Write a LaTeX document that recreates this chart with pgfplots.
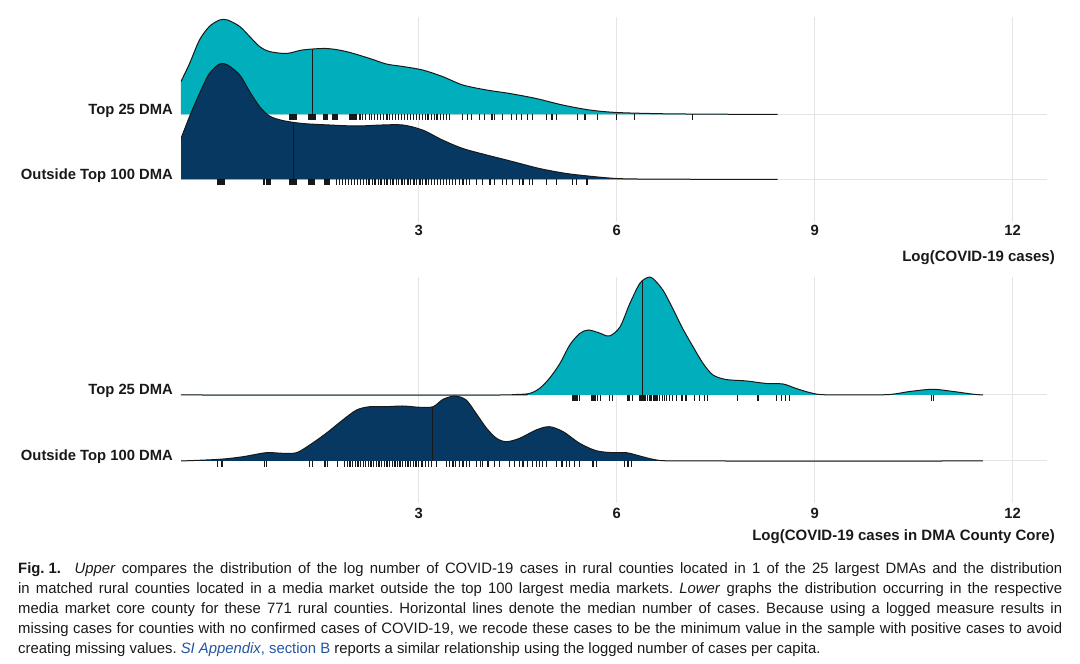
\documentclass[border=0pt]{standalone}
\usepackage{pgfplots}
\pgfplotsset{compat=1.18}
\usepackage{pgfplotstable}
\usepackage{fontspec}
\setmainfont{Liberation Sans}
\newfontfamily\capfont[FakeStretch=0.99]{Liberation Sans}
\definecolor{teal1}{RGB}{0,175,187}
\definecolor{navy1}{RGB}{6,56,98}
\definecolor{outl}{RGB}{25,25,25}
\definecolor{gridc}{RGB}{228,228,228}
\definecolor{capblue}{RGB}{35,85,165}

% ridge heights above each ridge's own baseline
% upper panel
\pgfplotstableread{
x y
-0.6 33
-0.47 51
-0.32 74.5
-0.17 88
-0.015 94.5
0.106 94.5
0.29 88
0.44 78
0.59 68
0.74 63
1.0 61
1.24 64.5
1.60 66
1.90 63
2.26 56
2.51 50.5
2.76 48
3.06 44.5
3.36 38
3.67 29.5
4.03 24.5
4.38 21
4.78 16
5.18 9.5
5.59 4.5
6.0 2
6.65 0.8
7.26 0.4
8.44 0
}\upA
\pgfplotstableread{
x y
-0.6 41
-0.47 63
-0.32 86
-0.17 106
-0.015 115.5
0.106 114.5
0.29 104.5
0.44 88
0.59 73
0.74 63.5
0.94 59
1.24 56
1.65 54.5
2.06 53.5
2.45 54.5
2.76 54.5
3.06 49.5
3.36 39.5
3.67 31
4.03 24.5
4.42 18
4.83 11
5.24 6
5.64 3
6.0 1
6.5 0.4
8.44 0
}\upB
% lower panel
\pgfplotstableread{
x y
-0.6 0
4.3 0
4.48 0.5
4.68 1.5
4.83 6.5
4.98 16.5
5.14 31.5
5.29 50
5.44 61.5
5.57 65
5.74 62
5.89 59
6.05 68
6.20 91.5
6.35 111.5
6.47 117.5
6.55 116.5
6.70 105
6.85 86.5
7.00 66.5
7.16 48
7.31 31.5
7.46 20
7.66 15.5
7.97 14
8.27 11.5
8.52 11
8.72 6.5
8.92 2.5
9.12 0.3
9.7 0.1
10.14 0.5
10.44 3.5
10.79 5.7
11.10 3.5
11.40 0.8
11.55 0
}\loA
\pgfplotstableread{
x y
-0.6 0
-0.015 1.7
0.34 4.3
0.69 8.3
0.94 7.7
1.15 8.3
1.35 16
1.60 27.7
1.85 41
2.06 51
2.26 54.3
2.51 54.3
2.76 55
3.02 53.7
3.22 54.3
3.37 61.7
3.55 65
3.72 61
3.87 47.7
4.03 32.7
4.18 22.7
4.33 19.3
4.53 22.7
4.78 31
4.98 34.3
5.19 29.3
5.44 17.7
5.69 10.3
5.94 8.3
6.15 8.3
6.35 5
6.55 1.7
6.75 0.2
7.5 0
11.55 0
}\loB

\pgfplotsset{
  ridge/.style={
    scale only axis, width=866pt,
    xmin=-0.6, xmax=12.52, enlargelimits=false,
    axis line style={draw=none}, tick style={draw=none},
    xtick={3,6,9,12},
    yticklabels={Outside Top 100 DMA, Top 25 DMA},
    xmajorgrids, ymajorgrids, grid style={gridc, line width=1pt},
    tick label style={font=\fontsize{14.8}{16}\selectfont\bfseries, text=outl},
    yticklabel style={anchor=base east, inner sep=0pt, xshift=-8pt},
    /pgf/number format/assume math mode=true,
  },
  layer/.style={
    scale only axis, width=866pt,
    xmin=-0.6, xmax=12.52, enlargelimits=false, hide axis,
  },
  rug/.style={only marks, mark=|, mark size=2.8pt, mark options={line width=1.3pt, draw=black, opacity=0.9}},
  ol/.style={outl, line width=1pt, smooth},
}

\begin{document}
\begin{tikzpicture}
\path[use as bounding box] (0pt,0pt) rectangle (1080pt,664pt);

% ---------- upper panel, Top 25 layer (with grid and labels)
\begin{axis}[ridge, at={(181pt,442pt)}, anchor=south west, height=205pt,
  ymin=-107.5, ymax=97.5, ytick={-65,0},
  xticklabel style={anchor=base, inner sep=0pt, yshift=-14pt}]
  \addplot[fill=teal1, draw=none, smooth] table {\upA} \closedcycle;
  \addplot[ol] table {\upA};
  \addplot[outl, line width=1pt] coordinates {(1.39,0) (1.39,65)};
  \addplot[rug] coordinates {(1.04,-2.8)(1.06,-2.8)(1.08,-2.8)(1.10,-2.8)(1.12,-2.8)(1.14,-2.8)(1.34,-2.8)(1.36,-2.8)(1.38,-2.8)(1.40,-2.8)(1.42,-2.8)(1.44,-2.8)(1.56,-2.8)(1.58,-2.8)(1.60,-2.8)(1.62,-2.8)(1.70,-2.8)(1.72,-2.8)(1.74,-2.8)(1.76,-2.8)(1.77,-2.8)(1.95,-2.8)(1.97,-2.8)(1.99,-2.8)(2.02,-2.8)(2.05,-2.8)(2.11,-2.8)(2.15,-2.8)(2.20,-2.8)(2.26,-2.8)(2.29,-2.8)(2.33,-2.8)(2.38,-2.8)(2.42,-2.8)(2.47,-2.8)(2.52,-2.8)(2.56,-2.8)(2.60,-2.8)(2.65,-2.8)(2.70,-2.8)(2.74,-2.8)(2.79,-2.8)(2.83,-2.8)(2.88,-2.8)(2.92,-2.8)(2.97,-2.8)(3.01,-2.8)(3.06,-2.8)(3.10,-2.8)(3.14,-2.8)(3.19,-2.8)(3.24,-2.8)(3.28,-2.8)(3.33,-2.8)(3.38,-2.8)(3.42,-2.8)(3.47,-2.8)(3.67,-2.8)(3.74,-2.8)(3.80,-2.8)(3.92,-2.8)(4.00,-2.8)(4.11,-2.8)(4.15,-2.8)(4.27,-2.8)(4.41,-2.8)(4.48,-2.8)(4.56,-2.8)(4.65,-2.8)(4.73,-2.8)(4.94,-2.8)(5.02,-2.8)(5.09,-2.8)(5.41,-2.8)(5.52,-2.8)(5.71,-2.8)(6.00,-2.8)(6.27,-2.8)(7.15,-2.8)};
\end{axis}
% ---------- upper panel, Outside Top 100 layer
\begin{axis}[layer, at={(181pt,442pt)}, anchor=south west, height=205pt,
  ymin=-42.5, ymax=162.5]
  \addplot[fill=navy1, draw=none, smooth] table {\upB} \closedcycle;
  \addplot[ol] table {\upB};
  \addplot[outl, line width=1pt] coordinates {(1.1,0) (1.1,57.5)};
  \addplot[rug] coordinates {(-0.05,-2.8)(-0.03,-2.8)(-0.01,-2.8)(0.01,-2.8)(0.03,-2.8)(0.05,-2.8)(0.65,-2.8)(0.67,-2.8)(0.69,-2.8)(0.71,-2.8)(0.73,-2.8)(0.75,-2.8)(1.04,-2.8)(1.06,-2.8)(1.08,-2.8)(1.10,-2.8)(1.12,-2.8)(1.14,-2.8)(1.34,-2.8)(1.36,-2.8)(1.38,-2.8)(1.40,-2.8)(1.42,-2.8)(1.57,-2.8)(1.59,-2.8)(1.61,-2.8)(1.63,-2.8)(1.65,-2.8)(1.76,-2.8)(1.80,-2.8)(1.85,-2.8)(1.89,-2.8)(1.94,-2.8)(1.98,-2.8)(2.03,-2.8)(2.07,-2.8)(2.12,-2.8)(2.16,-2.8)(2.21,-2.8)(2.25,-2.8)(2.30,-2.8)(2.34,-2.8)(2.39,-2.8)(2.43,-2.8)(2.48,-2.8)(2.52,-2.8)(2.57,-2.8)(2.61,-2.8)(2.66,-2.8)(2.70,-2.8)(2.75,-2.8)(2.79,-2.8)(2.84,-2.8)(2.88,-2.8)(2.93,-2.8)(2.97,-2.8)(3.02,-2.8)(3.06,-2.8)(3.11,-2.8)(3.15,-2.8)(3.20,-2.8)(3.24,-2.8)(3.29,-2.8)(3.33,-2.8)(3.38,-2.8)(3.42,-2.8)(3.47,-2.8)(3.51,-2.8)(3.56,-2.8)(3.62,-2.8)(3.67,-2.8)(3.72,-2.8)(3.77,-2.8)(3.88,-2.8)(3.97,-2.8)(4.08,-2.8)(4.15,-2.8)(4.27,-2.8)(4.33,-2.8)(4.42,-2.8)(4.53,-2.8)(4.58,-2.8)(4.68,-2.8)(4.73,-2.8)(4.94,-2.8)(5.09,-2.8)(5.33,-2.8)(5.39,-2.8)(5.55,-2.8)};
\end{axis}

% ---------- lower panel, Top 25 layer (with grid and labels)
\begin{axis}[ridge, at={(181pt,161pt)}, anchor=south west, height=226pt,
  ymin=-108, ymax=118, ytick={-66,0},
  xticklabel style={anchor=base, inner sep=0pt, yshift=-16pt}]
  \addplot[fill=teal1, draw=none, smooth] table {\loA} \closedcycle;
  \addplot[ol] table {\loA};
  \addplot[outl, line width=1pt] coordinates {(6.39,0) (6.39,113.5)};
  \addplot[rug] coordinates {(5.33,-2.8)(5.35,-2.8)(5.37,-2.8)(5.40,-2.8)(5.44,-2.8)(5.62,-2.8)(5.64,-2.8)(5.66,-2.8)(5.68,-2.8)(5.71,-2.8)(5.76,-2.8)(5.89,-2.8)(5.94,-2.8)(6.17,-2.8)(6.19,-2.8)(6.24,-2.8)(6.35,-2.8)(6.37,-2.8)(6.39,-2.8)(6.41,-2.8)(6.43,-2.8)(6.47,-2.8)(6.50,-2.8)(6.52,-2.8)(6.56,-2.8)(6.58,-2.8)(6.61,-2.8)(6.65,-2.8)(6.70,-2.8)(6.72,-2.8)(6.76,-2.8)(6.80,-2.8)(6.85,-2.8)(6.91,-2.8)(6.98,-2.8)(7.00,-2.8)(7.05,-2.8)(7.18,-2.8)(7.26,-2.8)(7.33,-2.8)(7.38,-2.8)(7.83,-2.8)(8.14,-2.8)(8.42,-2.8)(8.50,-2.8)(8.56,-2.8)(8.62,-2.8)(10.77,-2.8)(10.80,-2.8)};
\end{axis}
% ---------- lower panel, Outside Top 100 layer
\begin{axis}[layer, at={(181pt,161pt)}, anchor=south west, height=226pt,
  ymin=-42, ymax=184]
  \addplot[fill=navy1, draw=none, smooth] table {\loB} \closedcycle;
  \addplot[ol] table {\loB};
  \addplot[outl, line width=1pt] coordinates {(3.21,0) (3.21,54.3)};
  \addplot[rug] coordinates {(-0.05,-2.8)(0.02,-2.8)(0.67,-2.8)(0.70,-2.8)(1.35,-2.8)(1.39,-2.8)(1.58,-2.8)(1.62,-2.8)(1.77,-2.8)(1.88,-2.8)(1.92,-2.8)(1.96,-2.8)(2.00,-2.8)(2.04,-2.8)(2.08,-2.8)(2.12,-2.8)(2.16,-2.8)(2.20,-2.8)(2.24,-2.8)(2.28,-2.8)(2.32,-2.8)(2.36,-2.8)(2.40,-2.8)(2.44,-2.8)(2.48,-2.8)(2.52,-2.8)(2.56,-2.8)(2.60,-2.8)(2.64,-2.8)(2.68,-2.8)(2.72,-2.8)(2.76,-2.8)(2.80,-2.8)(2.84,-2.8)(2.88,-2.8)(2.92,-2.8)(2.96,-2.8)(3.00,-2.8)(3.05,-2.8)(3.10,-2.8)(3.15,-2.8)(3.20,-2.8)(3.27,-2.8)(3.42,-2.8)(3.47,-2.8)(3.52,-2.8)(3.56,-2.8)(3.62,-2.8)(3.67,-2.8)(3.73,-2.8)(3.77,-2.8)(3.88,-2.8)(3.94,-2.8)(3.97,-2.8)(4.05,-2.8)(4.15,-2.8)(4.23,-2.8)(4.38,-2.8)(4.45,-2.8)(4.53,-2.8)(4.58,-2.8)(4.65,-2.8)(4.73,-2.8)(4.79,-2.8)(4.83,-2.8)(4.88,-2.8)(4.94,-2.8)(5.09,-2.8)(5.17,-2.8)(5.24,-2.8)(5.29,-2.8)(5.36,-2.8)(5.44,-2.8)(5.64,-2.8)(5.70,-2.8)(6.12,-2.8)(6.17,-2.8)(6.23,-2.8)};
\end{axis}

\node[anchor=base east, inner sep=0pt, font=\fontsize{15}{17}\selectfont\bfseries, text=outl] at (1055pt,402pt) {Log(COVID-19 cases)};
\node[anchor=base east, inner sep=0pt, font=\fontsize{15}{17}\selectfont\bfseries, text=outl] at (1055pt,123pt) {Log(COVID-19 cases in DMA County Core)};

\node[anchor=north west, inner sep=0pt, text width=1044pt, align=justify,
  font=\capfont\fontsize{15}{20}\selectfont, text=outl] at (18pt,102pt) {\frenchspacing\hyphenpenalty=10000\exhyphenpenalty=10000\tolerance=9999
\mbox{\textbf{Fig.\ 1.}\hspace{0.9em}}\textit{Upper} compares the distribution of the log number of COVID-19 cases in rural counties located in 1 of the 25 largest DMAs and the distribution\linebreak
in matched rural counties located in a media market outside the top 100 largest media markets. \textit{Lower} graphs the distribution occurring in the respective\linebreak
media market core county for these 771 rural counties. Horizontal lines denote the median number of cases. Because using a logged measure results in\linebreak
missing cases for counties with no confirmed cases of COVID-19, we recode these cases to be the minimum value in the sample with positive cases to avoid\linebreak
creating missing values. {\color{capblue}\textit{SI Appendix}, section B} reports a similar relationship using the logged number of cases per capita.};
\end{tikzpicture}
\end{document}
